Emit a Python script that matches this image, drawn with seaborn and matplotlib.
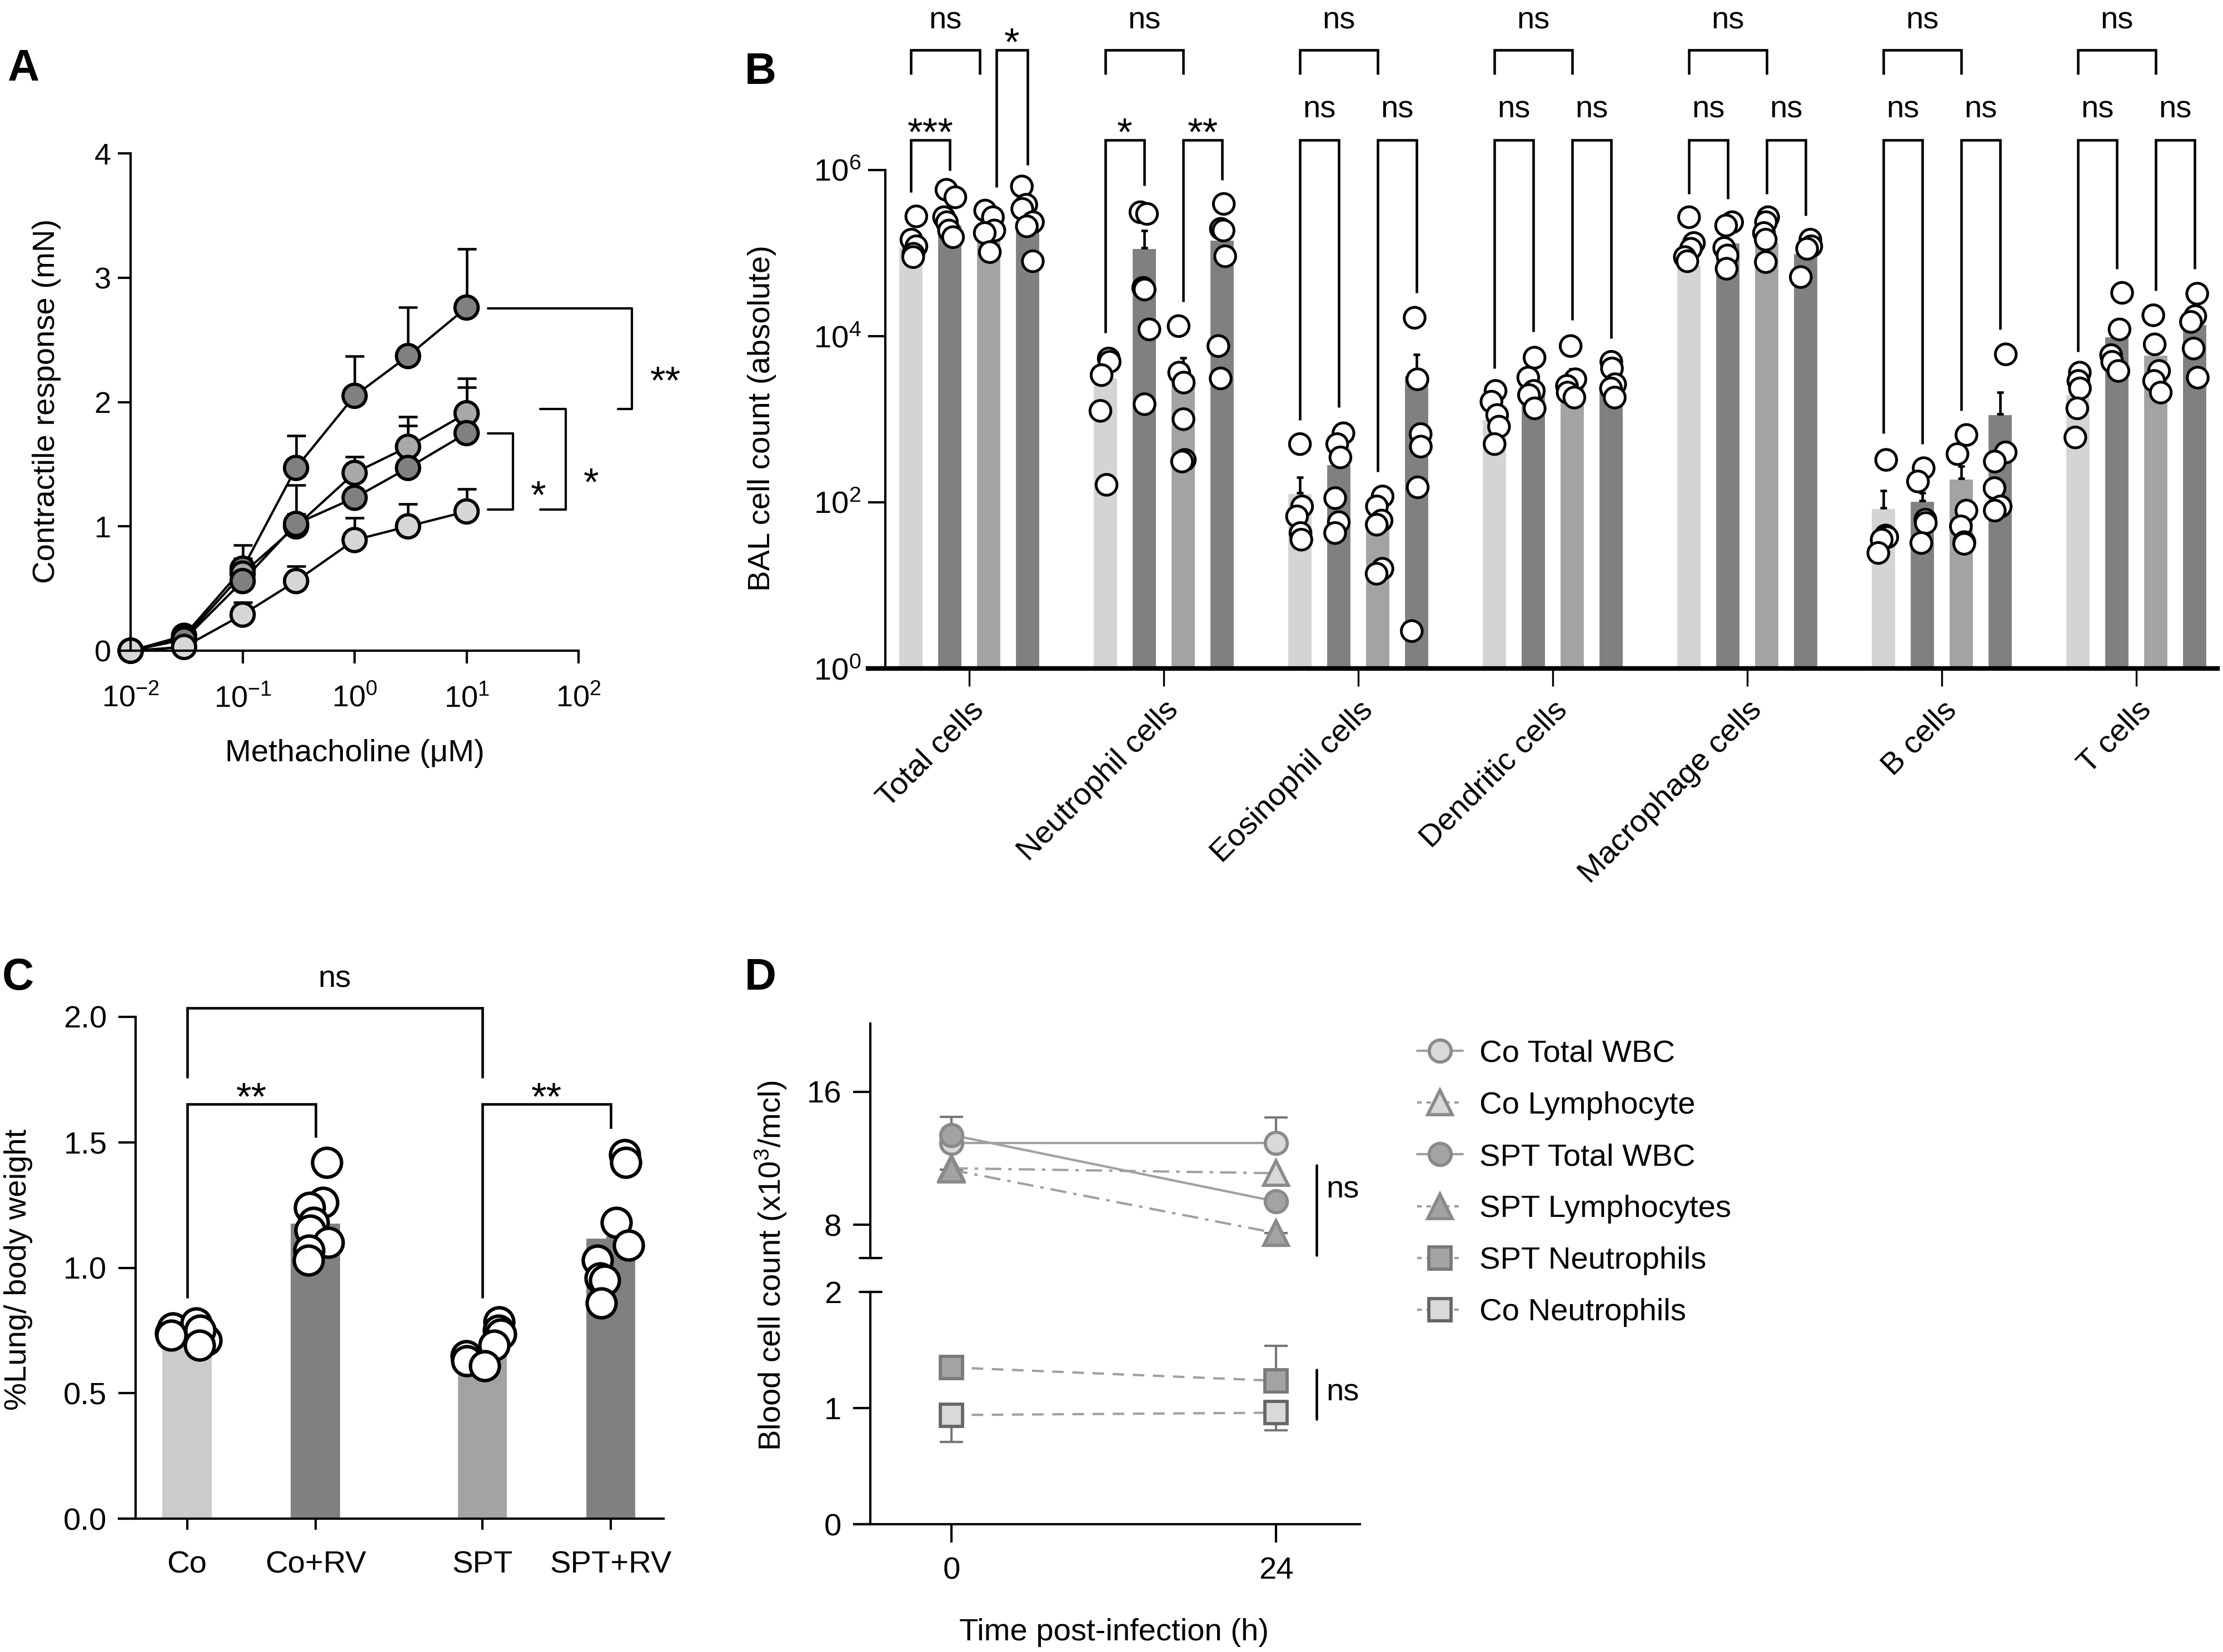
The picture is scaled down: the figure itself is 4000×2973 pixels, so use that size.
import numpy as np
import pandas as pd
import matplotlib
matplotlib.use('Agg')
import matplotlib.pyplot as plt
from matplotlib.lines import Line2D
from matplotlib.ticker import NullLocator, FormatStrFormatter
import seaborn as sns
import warnings
warnings.filterwarnings('ignore')

sns.set_theme(style='ticks')
plt.rcParams['font.family'] = ['Liberation Sans', 'DejaVu Sans']
plt.rcParams['mathtext.fontset'] = 'custom'
plt.rcParams['mathtext.rm'] = 'Liberation Sans'
plt.rcParams['mathtext.it'] = 'Liberation Sans:italic'
plt.rcParams['mathtext.bf'] = 'Liberation Sans:bold'
plt.rcParams['axes.linewidth'] = 1.0
plt.rcParams['axes.edgecolor'] = 'black'
plt.rcParams['xtick.color'] = 'black'
plt.rcParams['ytick.color'] = 'black'
plt.rcParams['text.color'] = 'black'
np.random.seed(4)

FS = 13.5      # labels / ticks
FS_STAR = 17   # asterisks
FS_PANEL = 19

# ── Panel A: methacholine response ─────────────────────────
mch_conc = [0.01, 0.03, 0.1, 0.3, 1, 3, 10]
a_groups = ['Co+RV', 'SPT', 'SPT+RV', 'Co']
resp_co_rv  = [0.0, 0.12, 0.66, 1.47, 2.05, 2.37, 2.76]
resp_spt    = [0.0, 0.10, 0.62, 1.00, 1.43, 1.64, 1.91]
resp_spt_rv = [0.0, 0.09, 0.56, 1.02, 1.23, 1.47, 1.75]
resp_co     = [0.0, 0.03, 0.29, 0.56, 0.89, 1.00, 1.12]
err_co_rv  = [0, 0, 0.19, 0.26, 0.32, 0.39, 0.47]
err_spt    = [0, 0, 0.12, 0.10, 0.13, 0.24, 0.28]
err_spt_rv = [0, 0, 0.10, 0.31, 0.15, 0.34, 0.37]
err_co     = [0, 0, 0.10, 0.12, 0.18, 0.18, 0.18]
a_colors = {'Co+RV': '#808080', 'SPT': '#a8a8a8', 'SPT+RV': '#808080', 'Co': '#d6d6d6'}

# ── Panel B: BAL cell counts ───────────────────────────────
cell_types = ['Total cells', 'Neutrophil cells', 'Eosinophil cells', 'Dendritic cells',
              'Macrophage cells', 'B cells', 'T cells']
groups = ['Co', 'Co+RV', 'SPT', 'SPT+RV']
bal_co     = [1.2e5, 3.2e3, 130, 1.0e3, 7.4e4, 85, 2.0e3]
bal_co_rv  = [2.2e5, 1.15e5, 290, 2.6e3, 1.35e5, 105, 1.0e4]
bal_spt    = [1.7e5, 3.4e3, 50, 3.0e3, 1.35e5, 195, 6.0e3]
bal_spt_rv = [2.3e5, 1.45e5, 3.4e3, 2.2e3, 1.0e5, 1150, 1.4e4]
# upper tip of the SEM bar (0 = not visible)
tip_co     = [0, 0, 200, 0, 0, 138, 0]
tip_co_rv  = [0, 1.86e5, 0, 0, 0, 129, 0]
tip_spt    = [0, 5.5e3, 0, 4.0e3, 0, 270, 0]
tip_spt_rv = [0, 0, 6.0e3, 0, 0, 2.1e3, 0]
# individual animals, log10 of count
pts_co = [[5.44, 5.16, 5.08, 4.99, 4.95], [3.73, 3.69, 3.53, 3.10, 2.21],
          [2.70, 1.95, 1.83, 1.63, 1.55], [3.34, 3.21, 3.05, 2.91, 2.70],
          [5.43, 5.12, 5.05, 4.95, 4.90], [2.51, 1.60, 1.58, 1.55, 1.39],
          [3.56, 3.46, 3.37, 3.13, 2.78]]
pts_co_rv = [[5.76, 5.67, 5.43, 5.37, 5.27, 5.19], [5.49, 5.47, 4.58, 4.56, 4.08, 3.18],
             [2.83, 2.70, 2.54, 2.05, 1.76, 1.63], [3.74, 3.50, 3.34, 3.29, 3.13],
             [5.37, 5.33, 5.06, 4.97, 4.81], [2.41, 2.25, 1.79, 1.75, 1.51],
             [4.52, 4.08, 3.77, 3.69, 3.58]]
pts_spt = [[5.51, 5.43, 5.27, 5.24, 5.01], [4.12, 3.56, 3.44, 3.00, 2.51, 2.49],
           [2.07, 1.95, 1.78, 1.73, 1.20, 1.14], [3.88, 3.48, 3.40, 3.32, 3.26],
           [5.43, 5.37, 5.24, 5.16, 4.89], [2.81, 2.58, 1.90, 1.71, 1.52, 1.50],
           [4.25, 3.90, 3.58, 3.46, 3.32]]
pts_spt_rv = [[5.80, 5.58, 5.53, 5.37, 5.32, 4.90], [5.59, 5.29, 5.27, 4.96, 3.88, 3.49],
              [4.22, 3.48, 2.82, 2.67, 2.18, 0.45], [3.69, 3.61, 3.42, 3.37, 3.26],
              [5.16, 5.08, 5.05, 4.71], [3.78, 2.60, 2.49, 2.17, 1.95, 1.90],
              [4.51, 4.24, 4.17, 3.85, 3.50]]
# bracket legs (log10)
legs_co     = [5.73, 4.04, 2.99, 3.61, 5.71, 2.83, 3.81]
legs_co_rv  = [5.99, 5.81, 3.14, 4.05, 5.65, 2.70, 4.81]
legs_spt    = [5.79, 4.41, 2.37, 4.19, 5.71, 3.10, 4.55]
legs_spt_rv = [6.06, 5.88, 4.52, 3.97, 5.45, 4.08, 4.81]
sig_co  = ['***', '*', 'ns', 'ns', 'ns', 'ns', 'ns']
sig_spt = ['*', '**', 'ns', 'ns', 'ns', 'ns', 'ns']
sig_top = ['ns'] * 7
b_colors = {'Co': '#d4d4d4', 'Co+RV': '#808080', 'SPT': '#a3a3a3', 'SPT+RV': '#808080'}

# ── Panel C: lung / body weight ────────────────────────────
c_groups = ['Co', 'Co+RV', 'SPT', 'SPT+RV']
c_pos = [0, 1, 2.3, 3.3]
lung_mean = [0.73, 1.18, 0.69, 1.12]
lung_tip = [0, 1.21, 0, 1.135]
lung_co = [0.71, 0.74, 0.76, 0.78, 0.75, 0.73, 0.69]
lung_co_rv = [1.42, 1.26, 1.24, 1.18, 1.15, 1.10, 1.07, 1.03]
lung_spt = [0.785, 0.75, 0.735, 0.69, 0.65, 0.63, 0.61]
lung_spt_rv = [1.45, 1.42, 1.18, 1.09, 1.03, 0.96, 0.95, 0.86]
c_colors = {'Co': '#cbcbcb', 'Co+RV': '#808080', 'SPT': '#a3a3a3', 'SPT+RV': '#808080'}

# ── Panel D: blood counts ──────────────────────────────────
hours = [0, 24]
co_wbc  = [12.9, 12.9]
spt_wbc = [13.4, 9.4]
co_lym  = [11.4, 11.1]
spt_lym = [11.3, 7.5]
spt_neu = [1.35, 1.235]
co_neu  = [0.94, 0.96]
co_wbc_up, spt_wbc_up = [0, 1.55], [1.1, 0]
spt_lym_dn = [0, 0.75]
spt_neu_up = [0, 0.30]
co_neu_dn = [0.23, 0.15]

W, H = 4000, 2973
fig = plt.figure(figsize=(W / 300, H / 300), dpi=300)


def box(x0, y0, x1, y1):
    return [x0 / W, 1 - y1 / H, (x1 - x0) / W, (y1 - y0) / H]


def ftext(x, y, s, **kw):
    kw.setdefault('fontsize', FS)
    fig.text(x / W, 1 - y / H, s, **kw)


def bracket(ax, xa, xb, top, leg_a, leg_b, label, ty, fs, lw=1.1):
    ax.plot([xa, xa, xb, xb], [leg_a, top, top, leg_b], color='black', lw=lw,
            clip_on=False, solid_joinstyle='miter', solid_capstyle='butt')
    ax.text((xa + xb) / 2, ty, label, ha='center', va='center', fontsize=fs, clip_on=False)


# ═════════════ A ═════════════
axA = fig.add_axes(box(217, 276, 1041, 1171))
axA.set_xscale('log')
dfA = pd.DataFrame({
    'conc': mch_conc * 4,
    'resp': resp_co_rv + resp_spt + resp_spt_rv + resp_co,
    'err': err_co_rv + err_spt + err_spt_rv + err_co,
    'group': np.repeat(a_groups, len(mch_conc)),
})
sns.lineplot(data=dfA, x='conc', y='resp', units='group', estimator=None,
             color='black', lw=1.0, ax=axA, zorder=1)
for g in a_groups:
    sub = dfA[dfA['group'] == g]
    axA.errorbar(sub['conc'], sub['resp'], yerr=[np.zeros(len(sub)), sub['err']],
                 fmt='none', ecolor='black', elinewidth=1.1, capsize=4, capthick=1.1, zorder=1)
sns.scatterplot(data=dfA, x='conc', y='resp', hue='group', palette=a_colors, s=100,
                edgecolor='black', linewidth=1.4, legend=False, ax=axA, zorder=2, clip_on=False)
axA.set_xlim(10 ** -2.09, 100)
axA.set_ylim(0, 4)
axA.set_xticks([0.01, 0.1, 1, 10, 100])
axA.xaxis.set_minor_locator(NullLocator())
axA.set_yticks([0, 1, 2, 3, 4])
axA.spines[['top', 'right']].set_visible(False)
axA.spines['left'].set_position(('data', 0.01))
axA.tick_params(length=5.5, width=1.0, labelsize=13, pad=3)
axA.tick_params(axis='x', pad=9)
axA.set_xlabel('')
axA.set_ylabel('')

# significance brackets
axA.plot([15.6, 300, 300, 226], [2.755, 2.755, 1.944, 1.944], color='black', lw=1.0, clip_on=False)
axA.text(600, 2.25 - 0.1, '**', ha='center', va='center', fontsize=FS_STAR)
axA.plot([45.7, 76.9, 76.9, 45.7], [1.944, 1.944, 1.136, 1.136], color='black', lw=1.0, clip_on=False)
axA.text(129, 1.43 - 0.1, '*', ha='center', va='center', fontsize=FS_STAR)
axA.plot([15.6, 26.1, 26.1, 15.6], [1.746, 1.746, 1.136, 1.136], color='black', lw=1.0, clip_on=False)
axA.text(43.7, 1.33 - 0.1, '*', ha='center', va='center', fontsize=FS_STAR)

ftext(84, 722, 'Contractile response (mN)', rotation=90, ha='center', va='center')
ftext(638, 1356, 'Methacholine (μM)', ha='center', va='center')

# ═════════════ B ═════════════
axB = fig.add_axes(box(1562, 14, 3990, 1203))
axB.set_yscale('log')
dfB_bars = pd.DataFrame({
    'cell': cell_types * 4,
    'group': np.repeat(groups, len(cell_types)),
    'count': bal_co + bal_co_rv + bal_spt + bal_spt_rv,
})
sns.barplot(data=dfB_bars, x='cell', y='count', hue='group', hue_order=groups,
            order=cell_types, palette=b_colors, width=0.8, gap=0.33, errorbar=None,
            legend=False, ax=axB, zorder=1)

rows = []
for g, pts in zip(groups, [pts_co, pts_co_rv, pts_spt, pts_spt_rv]):
    for cell, vals in zip(cell_types, pts):
        for v in vals:
            rows.append((cell, g, 10 ** v))
dfB_pts = pd.DataFrame(rows, columns=['cell', 'group', 'count'])
sns.stripplot(data=dfB_pts, x='cell', y='count', hue='group', hue_order=groups,
              order=cell_types, dodge=True, jitter=0.12,
              palette={g: 'white' for g in groups}, edgecolor='black', linewidth=1.2,
              size=9, legend=False, ax=axB, zorder=3)

offs = [-0.3, -0.1, 0.1, 0.3]
for j, tips in enumerate([tip_co, tip_co_rv, tip_spt, tip_spt_rv]):
    means = [bal_co, bal_co_rv, bal_spt, bal_spt_rv][j]
    for i, t in enumerate(tips):
        if t > 0:
            axB.errorbar(i + offs[j], means[i], yerr=[[0], [t - means[i]]], fmt='none',
                         ecolor='black', elinewidth=1.1, capsize=1.5, capthick=1.1, zorder=2)

TOP, TOP_LEG, LOW = 7.44, 7.145, 6.36
NS_TOP, NS_LOW, STAR_LOW = 7.79, 6.72, 6.42
for i in range(len(cell_types)):
    xb_top = i + 0.1 - (0.045 if i == 0 else 0)
    bracket(axB, i - 0.3, xb_top, 10 ** TOP, 10 ** TOP_LEG, 10 ** TOP_LEG, sig_top[i],
            10 ** NS_TOP, FS)
    lab = sig_co[i]
    bracket(axB, i - 0.3, i - 0.1, 10 ** LOW, 10 ** legs_co[i], 10 ** legs_co_rv[i], lab,
            10 ** (NS_LOW if lab == 'ns' else STAR_LOW), FS if lab == 'ns' else FS_STAR)
    lab = sig_spt[i]
    if i == 0:
        bracket(axB, i + 0.14, i + 0.3, 10 ** TOP, 10 ** legs_spt[i], 10 ** legs_spt_rv[i], lab,
                10 ** 7.50, FS_STAR)
    else:
        bracket(axB, i + 0.1, i + 0.3, 10 ** LOW, 10 ** legs_spt[i], 10 ** legs_spt_rv[i], lab,
                10 ** (NS_LOW if lab == 'ns' else STAR_LOW), FS if lab == 'ns' else FS_STAR)

axB.set_xlim(-0.52, 6.417)
axB.set_ylim(1, 10 ** 7.95)
axB.set_yticks([1, 1e2, 1e4, 1e6])
axB.yaxis.set_minor_locator(NullLocator())
axB.spines[['top', 'right']].set_visible(False)
axB.spines['left'].set_position(('data', -0.431))
axB.spines['left'].set_bounds(1, 1e6)
axB.spines['bottom'].set_linewidth(2.0)
axB.tick_params(axis='y', length=7.5, width=1.0, labelsize=FS, pad=3)
axB.tick_params(axis='x', length=7.7, width=0.8, labelsize=FS, pad=4)
plt.setp(axB.get_xticklabels(), rotation=45, ha='right', rotation_mode='anchor')
axB.set_xlabel('')
axB.set_ylabel('')
ftext(1371, 753, 'BAL cell count (absolute)', rotation=90, ha='center', va='center')

# ═════════════ C ═════════════
axC = fig.add_axes(box(214, 1830, 1194, 2733))
sns.barplot(x=c_pos, y=lung_mean, hue=c_groups, palette=c_colors, native_scale=True,
            width=0.4, dodge=False, errorbar=None, legend=False, ax=axC, zorder=1)
for p, m, t in zip(c_pos, lung_mean, lung_tip):
    if t > 0:
        axC.errorbar(p, m, yerr=[[0], [t - m]], fmt='none', ecolor='#808080',
                     elinewidth=1.0, capsize=2, zorder=2)
dfC = pd.DataFrame({
    'pos': np.repeat(c_pos, [len(lung_co), len(lung_co_rv), len(lung_spt), len(lung_spt_rv)]),
    'val': lung_co + lung_co_rv + lung_spt + lung_spt_rv,
})
sns.stripplot(data=dfC, x='pos', y='val', native_scale=True, jitter=0.15, color='white',
              edgecolor='black', linewidth=1.5, size=12.5, ax=axC, zorder=3)
bracket(axC, 0, 2.3, 2.036, 1.756, 1.756, 'ns', 2.15, FS)
bracket(axC, 0, 1, 1.652, 0.88, 1.52, '**', 1.67, FS_STAR)
bracket(axC, 2.3, 3.3, 1.652, 0.88, 1.554, '**', 1.67, FS_STAR)
axC.set_xlim(-0.53, 3.71)
axC.set_ylim(0, 2.0)
axC.set_xticks(c_pos)
axC.set_xticklabels(c_groups)
axC.set_yticks([0, 0.5, 1.0, 1.5, 2.0])
axC.yaxis.set_major_formatter(FormatStrFormatter('%.1f'))
axC.spines[['top', 'right']].set_visible(False)
axC.spines['left'].set_position(('data', -0.40))
axC.tick_params(axis='y', length=7.4, width=1.0, labelsize=FS, pad=5)
axC.tick_params(axis='x', length=4.8, width=1.0, labelsize=FS, pad=9)
axC.set_xlabel('')
axC.set_ylabel('')
ftext(33, 2285, '%Lung/ body weight', rotation=90, ha='center', va='center')

# ═════════════ D ═════════════
axDu = fig.add_axes(box(1537, 1842, 2447, 2264))
axDl = fig.add_axes(box(1537, 2325, 2447, 2743))
line_c = '#a0a0a0'
dashdot = (0, (7, 3, 1.5, 3))
dashed = (0, (5, 3.7))
series_up = [
    ('Co Total WBC', co_wbc, '-', 'o', '#d9d9d9', '#8a8a8a'),
    ('Co Lymphocyte', co_lym, dashdot, '^', '#d9d9d9', '#8a8a8a'),
    ('SPT Total WBC', spt_wbc, '-', 'o', '#a3a3a3', '#8a8a8a'),
    ('SPT Lymphocytes', spt_lym, dashdot, '^', '#a3a3a3', '#8a8a8a'),
]
series_lo = [
    ('SPT Neutrophils', spt_neu, dashed, 's', '#a3a3a3', '#7a7a7a'),
    ('Co Neutrophils', co_neu, dashed, 's', '#d9d9d9', '#666666'),
]
axDu.errorbar(hours, co_wbc, yerr=[[0, 0], co_wbc_up], fmt='none', ecolor='#777777',
              elinewidth=1.0, capsize=5, zorder=2)
axDu.errorbar(hours, spt_wbc, yerr=[[0, 0], spt_wbc_up], fmt='none', ecolor='#777777',
              elinewidth=1.0, capsize=5, zorder=2)
axDu.errorbar(hours, spt_lym, yerr=[spt_lym_dn, [0, 0]], fmt='none', ecolor='#777777',
              elinewidth=1.0, capsize=5, zorder=2)
axDl.errorbar(hours, spt_neu, yerr=[[0, 0], spt_neu_up], fmt='none', ecolor='#777777',
              elinewidth=1.0, capsize=5, zorder=2)
axDl.errorbar(hours, co_neu, yerr=[co_neu_dn, [0, 0]], fmt='none', ecolor='#777777',
              elinewidth=1.0, capsize=5, zorder=2)

handles = []
for ax, series in [(axDu, series_up), (axDl, series_lo)]:
    for name, vals, ls, mk, fc, ec in series:
        ms = 10.5 if mk == '^' else 9.5
        sns.lineplot(x=hours, y=vals, ax=ax, color=line_c, linestyle=ls, lw=1.0,
                     marker=mk, markersize=ms, markerfacecolor=fc, markeredgecolor=ec,
                     markeredgewidth=1.4, zorder=3, clip_on=False, legend=False)
        handles.append(Line2D([], [], color=line_c, linestyle=ls if ls == '-' else (0, (2, 2)),
                              lw=1.0, marker=mk, markersize=ms, markerfacecolor=fc,
                              markeredgecolor=ec, markeredgewidth=1.4, label=name))
fig.legend(handles=handles, loc='upper left',
           bbox_to_anchor=(2550 / W, 1 - 1871 / H), frameon=False, fontsize=FS,
           handlelength=1.45, handletextpad=0.55, labelspacing=0.73,
           borderpad=0, borderaxespad=0)

for ax in (axDu, axDl):
    ax.set_xlim(-7.2, 30.2)
    ax.spines[['top', 'right']].set_visible(False)
    ax.spines['left'].set_position(('data', -6))
    ax.set_xlabel('')
    ax.set_ylabel('')
    ax.tick_params(axis='y', length=7.5, width=1.0, labelsize=FS, pad=5)
axDu.set_ylim(6, 20.1)
axDu.set_yticks([8, 16])
axDu.spines['bottom'].set_visible(False)
axDu.set_xticks([])
axDl.set_ylim(0, 2)
axDl.set_yticks([0, 1, 2])
axDl.get_yaxis().get_major_ticks()[2].tick1line.set_visible(False)
axDl.set_xticks([0, 24])
axDl.tick_params(axis='x', length=8, width=1.0, labelsize=FS, pad=6)
# axis-break caps
axDu.plot([-6.78, -5.18], [6, 6], color='black', lw=1.0, clip_on=False)
axDl.plot([-6.78, -5.18], [2, 2], color='black', lw=1.0, clip_on=False)
# ns markers
axDu.plot([27, 27], [6.16, 11.58], color='black', lw=1.1, clip_on=False)
axDu.text(27.7, 10.1, 'ns', ha='left', va='center', fontsize=FS)
axDl.plot([27, 27], [0.905, 1.33], color='black', lw=1.1, clip_on=False)
axDl.text(27.7, 1.13, 'ns', ha='left', va='center', fontsize=FS)

ftext(1387, 2278, 'Blood cell count (x10$^3$/mcl)', rotation=90, ha='center', va='center')
ftext(2005, 2938, 'Time post-infection (h)', ha='center', va='center')

# panel letters
for lbl, x, y in [('A', 13, 145), ('B', 1340, 151), ('C', 4, 1781), ('D', 1340, 1781)]:
    ftext(x, y, lbl, ha='left', va='baseline', fontsize=FS_PANEL, fontweight='bold')

fig.savefig('out.png', dpi=300)
